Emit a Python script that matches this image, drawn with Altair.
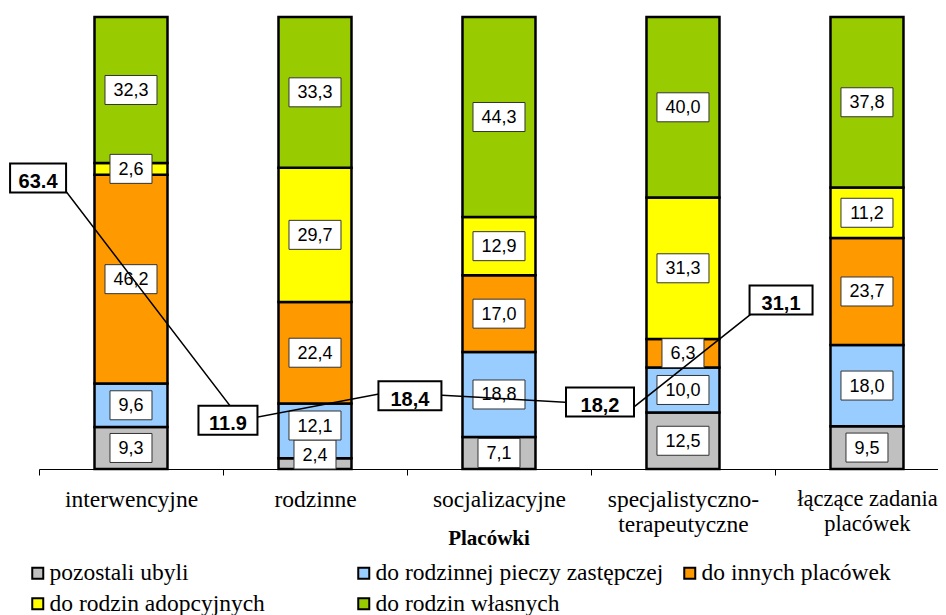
import json
import altair as alt
import pandas as pd

# ---------------- data ----------------
categories = [
    "interwencyjne",
    "rodzinne",
    "socjalizacyjne",
    "specjalistyczno-\nterapeutyczne",
    "łączące zadania\nplacówek",
]
series = [
    "pozostali ubyli",
    "do rodzinnej pieczy zastępczej",
    "do innych placówek",
    "do rodzin adopcyjnych",
    "do rodzin własnych",
]
pozostali_ubyli = [9.3, 2.4, 7.1, 12.5, 9.5]
do_rodzinnej_pieczy = [9.6, 12.1, 18.8, 10.0, 18.0]
do_innych_placowek = [46.2, 22.4, 17.0, 6.3, 23.7]
do_rodzin_adopcyjnych = [2.6, 29.7, 12.9, 31.3, 11.2]
do_rodzin_wlasnych = [32.3, 33.3, 44.3, 40.0, 37.8]
series_values = [pozostali_ubyli, do_rodzinnej_pieczy, do_innych_placowek,
                 do_rodzin_adopcyjnych, do_rodzin_wlasnych]
colors = ["#C0C0C0", "#99CCFF", "#FF9900", "#FFFF00", "#99CC00"]

# call-out labels (as printed) and where they were placed on the chart
callout_labels = ["63.4", "11.9", "18,4", "18,2", "31,1"]
# placement in category-index units (x) and percent units (y)
callout_box_x = [-0.505, 0.527, 1.516, 2.549, 3.533]
callout_box_y = [64.4, 10.8, 16.2, 14.8, 37.4]
callout_box_w = [56, 59, 63, 68, 63]
callout_line_x = [-0.413, 0.598, 1.397, 2.739, 3.473]
callout_line_y = [64.6, 10.8, 17.0, 13.9, 37.6]

# ---------------- layout helpers ----------------
PLOT_W, PLOT_H = 899, 452
BOX_H_PX = 29
half_box = BOX_H_PX / PLOT_H * 100 / 2
CB_H_PX = 29
half_cb = CB_H_PX / PLOT_H * 100 / 2
SERIF = "Liberation Serif"
SANS = "Liberation Sans"

rows = []
labels_rows = []
for i, cat in enumerate(categories):
    col = [sv[i] for sv in series_values]
    total = sum(col)
    cum = 0.0
    prev_top = 0.0
    for j, s in enumerate(series):
        v = col[j]
        y0 = cum / total * 100
        y1 = (cum + v) / total * 100
        cum += v
        rows.append({"idx": i, "series": s, "order": j, "y0": y0, "y1": y1})
        c = (y0 + y1) / 2
        if c - half_box < prev_top:
            c = prev_top + half_box
        prev_top = c + half_box
        txt = f"{v:.1f}".replace(".", ",")
        labels_rows.append({"idx": i, "lc": c, "b0": c - half_box, "b1": c + half_box,
                            "label": txt, "boxw": 10 * len(txt) + 12})

bars = pd.DataFrame(rows)
labs = pd.DataFrame(labels_rows)
calls = pd.DataFrame({
    "k": list(range(len(callout_labels))),
    "label": callout_labels,
    "bx": callout_box_x,
    "by": callout_box_y,
    "bw": callout_box_w,
    "by0": [y - half_cb for y in callout_box_y],
    "by1": [y + half_cb for y in callout_box_y],
    "lx": callout_line_x,
    "ly": callout_line_y,
})

xs = alt.Scale(domain=[-0.5, 4.386], nice=False, zero=False, padding=0)
ys = alt.Scale(domain=[0, 100], nice=False, zero=False, padding=0)

label_lines = json.dumps([c.split("\n") for c in categories], ensure_ascii=False)
tick_values = [-0.5, 0, 0.5, 1, 1.5, 2, 2.5, 3, 3.5, 4]
last_idx = len(categories) - 1

xaxis = alt.Axis(
    values=tick_values,
    labelExpr=f"datum.value % 1 === 0 ? {label_lines}[datum.value] : ''",
    tickOpacity={"condition": {"test": "datum.value % 1 !== 0", "value": 1}, "value": 0},
    tickSize=6, tickColor="black", tickWidth=1,
    domainColor="black", domainWidth=1,
    labelFont=SERIF,
    labelFontSize={"condition": {"test": f"datum.value === {last_idx}", "value": 22.5}, "value": 23.5},
    labelColor="black",
    labelPadding=12, labelLineHeight=25, labelOverlap=False, labelFlush=False,
    labelBound=False, labelAngle=0,
    titleFont=SERIF, titleFontSize=21, titleFontWeight="bold",
    titleColor="black", titleY=75, titleBaseline="alphabetic",
    grid=False,
)

legend = alt.Legend(
    orient="none", legendX=-13, legendY=544, direction="horizontal", columns=3,
    gridAlign="all", columnPadding=14, rowPadding=6, padding=0,
    symbolType="square", symbolSize=121, symbolStrokeColor="black",
    symbolStrokeWidth=2, symbolOpacity=1,
    labelFont=SERIF, labelFontSize=23.5, labelColor="black",
    labelLimit=400, labelOffset=0, title=None,
)

TITLE = "Placówki"


def X(field):
    return alt.X(field, type="quantitative", scale=xs, axis=xaxis, title=TITLE)


def Y(field):
    return alt.Y(field, type="quantitative", scale=ys, axis=None, title="")


bar_layer = alt.Chart(bars).mark_bar(size=73, stroke="black", strokeWidth=2.5, opacity=1).encode(
    x=X("idx"),
    y=Y("y0"),
    y2="y1:Q",
    color=alt.Color("series:N", scale=alt.Scale(domain=series, range=colors), legend=legend),
)

box_layer = alt.Chart(labs).mark_bar(color="white", stroke="#333333", strokeWidth=1, opacity=1).encode(
    x=X("idx"),
    y=Y("b0"),
    y2="b1:Q",
    size=alt.Size("boxw:Q", scale=None, legend=None),
)

text_layer = alt.Chart(labs).mark_text(
    font=SANS, fontSize=18, baseline="middle", dy=1, color="black"
).encode(
    x=X("idx"),
    y=Y("lc"),
    text="label:N",
)

line_layer = alt.Chart(calls).mark_line(color="black", strokeWidth=1.5).encode(
    x=X("lx"),
    y=Y("ly"),
    order="k:Q",
)

cbox_layer = alt.Chart(calls).mark_bar(
    color="white", stroke="black", strokeWidth=2, opacity=1
).encode(
    x=X("bx"),
    y=Y("by0"),
    y2="by1:Q",
    size=alt.Size("bw:Q", scale=None, legend=None),
)

ctext_layer = alt.Chart(calls).mark_text(
    font=SANS, fontSize=20, fontWeight="bold", baseline="middle", dy=4, color="black"
).encode(
    x=X("bx"),
    y=Y("by"),
    text="label:N",
)

chart = alt.layer(
    bar_layer, box_layer, text_layer, line_layer, cbox_layer, ctext_layer
).properties(
    width=PLOT_W, height=PLOT_H,
    autosize=alt.AutoSizeParams(type="none"),
    padding={"left": 31, "top": 9, "right": 0, "bottom": 146},
    background="white",
).configure_view(stroke=None)

chart.save("out.html", embed_options={"renderer": "svg", "actions": False})
